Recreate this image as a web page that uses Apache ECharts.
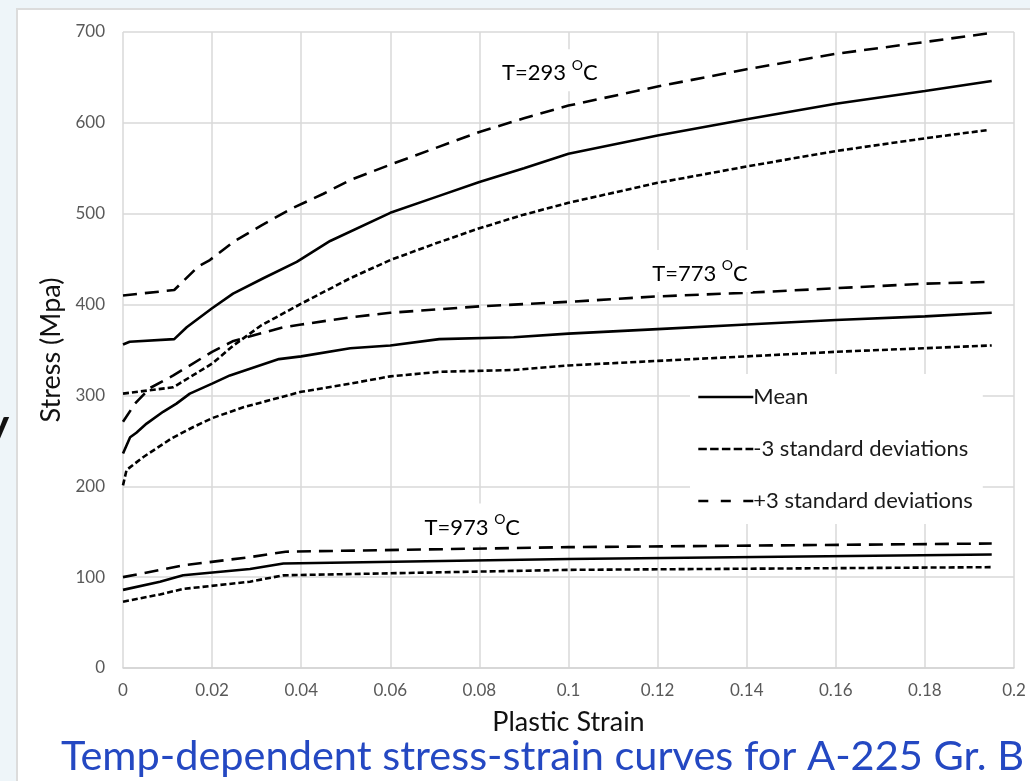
<!DOCTYPE html>
<html><head><meta charset="utf-8">
<script src="https://cdn.jsdelivr.net/npm/echarts@6/dist/echarts.min.js"></script>
<style>
html,body{margin:0;padding:0;background:#eef5f9;overflow:hidden;}
#card{position:absolute;left:16px;top:8px;width:1030px;height:790px;background:#fff;border:2px solid #dcdcdc;box-sizing:border-box;}
#c{position:absolute;left:0;top:0;width:1030px;height:781px;}
</style>
</head><body><div id="card"></div><div id="c"></div>
<script>
// ---- data ----
const strain293Mean = [0, 0.0015, 0.0115, 0.0143, 0.02, 0.0247, 0.0315, 0.039, 0.0465, 0.06, 0.07, 0.08, 0.09, 0.1, 0.12, 0.14, 0.16, 0.18, 0.195];
const stress293Mean = [356, 359, 362, 375, 396, 412, 429, 447, 470, 501, 518, 535, 550, 566, 586, 604, 621, 635, 646];
const strain293Plus = [0, 0.0115, 0.0169, 0.0195, 0.0248, 0.031, 0.038, 0.045, 0.051, 0.06, 0.07, 0.08, 0.09, 0.1, 0.12, 0.14, 0.16, 0.18, 0.195];
const stress293Plus = [410, 416, 442, 449, 469, 487, 506, 522, 537, 554, 572, 590, 605, 619, 640, 659, 676, 689, 699];
const strain293Minus = [0, 0.0113, 0.02, 0.0248, 0.031, 0.04, 0.051, 0.06, 0.07, 0.08, 0.09, 0.1, 0.12, 0.14, 0.16, 0.18, 0.194];
const stress293Minus = [302, 309, 335, 355, 377, 401, 429, 449, 467, 484, 499, 512, 534, 552, 569, 583, 592];

const strain773Mean = [0, 0.0016, 0.003, 0.0053, 0.009, 0.012, 0.015, 0.02, 0.024, 0.035, 0.04, 0.051, 0.06, 0.071, 0.0877, 0.1, 0.12, 0.14, 0.16, 0.18, 0.195];
const stress773Mean = [236, 254, 259, 269, 282, 291, 302, 313, 322, 340, 343, 352, 355, 362, 364, 368, 373, 378, 383, 387, 391];
const strain773Plus = [0, 0.0027, 0.006, 0.0113, 0.02, 0.0248, 0.036, 0.04, 0.051, 0.06, 0.08, 0.1, 0.12, 0.14, 0.16, 0.18, 0.195];
const stress773Plus = [271, 291, 308, 322, 348, 360, 375, 378, 386, 391, 398, 403, 409, 413, 418, 423, 425];
const strain773Minus = [0, 0.0008, 0.0045, 0.011, 0.0157, 0.02, 0.027, 0.04, 0.051, 0.06, 0.071, 0.0877, 0.1, 0.12, 0.14, 0.16, 0.18, 0.195];
const stress773Minus = [201, 218, 232, 253, 265, 275, 287, 304, 313, 321, 326, 328, 333, 338, 343, 348, 352, 355];

const strain973Mean = [0, 0.0083, 0.0135, 0.0285, 0.036, 0.1, 0.195];
const stress973Mean = [86, 95, 102, 109, 115, 120, 125];
const strain973Plus = [0, 0.0135, 0.0285, 0.0365, 0.1, 0.195];
const stress973Plus = [100, 113, 122, 128, 133, 137];
const strain973Minus = [0, 0.0083, 0.0135, 0.0285, 0.036, 0.1, 0.195];
const stress973Minus = [73, 81, 87, 95, 102, 108, 111];

const legendNames = ['Mean', '-3 standard deviations', '+3 standard deviations'];
const tempLabels = ['T=293', 'T=773', 'T=973'];
const xAxisTitle = 'Plastic Strain';
const yAxisTitle = 'Stress (Mpa)';
const chartTitle = 'Temp-dependent stress-strain curves for A-225 Gr. B';

// ---- chart ----
const FONT = 'Lato, "Open Sans", sans-serif';
const SOLID = 'solid', SHORT = [6, 3], LONG = [14, 8];
const LEGEND_DASH = ['solid', [8.5, 3.3], [10, 12.5]];
function pairs(xs, ys) { return xs.map((x, i) => [x, ys[i]]); }
function mk(name, xs, ys, dash) {
  return {
    type: 'line', name: name, data: pairs(xs, ys),
    symbol: 'none', showSymbol: false, smooth: false,
    lineStyle: { color: '#000', width: 2.6, type: dash },
    itemStyle: { color: '#000' }, z: 3, silent: true
  };
}
const chart = echarts.init(document.getElementById('c'), null, { renderer: 'canvas' });
chart.setOption({
  animation: false,
  backgroundColor: 'transparent',
  textStyle: { fontFamily: FONT },
  title: {
    text: chartTitle, left: 56, top: 731,
    textStyle: { fontFamily: FONT, fontSize: 41.5, fontWeight: 'normal', color: '#2448c2' }
  },
  grid: { left: 123, right: 16, top: 32, bottom: 113, containLabel: false },
  legend: {
    data: legendNames.map((n, i) => ({ name: n, lineStyle: { type: LEGEND_DASH[i], width: 2.6, color: '#000' } })),
    orient: 'vertical', left: 690, top: 374,
    itemWidth: 55, itemHeight: 14, itemGap: 30,
    padding: [12, 10, 12, 7], backgroundColor: '#fff',
    itemStyle: { opacity: 0 },
    textStyle: { fontFamily: FONT, fontSize: 22, color: '#1a1a1a', padding: [0, 0, 0, -5] },
    selectedMode: false
  },
  xAxis: {
    type: 'value', min: 0, max: 0.2, interval: 0.02,
    name: xAxisTitle, nameLocation: 'middle', nameGap: 41,
    nameTextStyle: { fontFamily: FONT, fontSize: 27, color: '#111' },
    axisLine: { show: true, lineStyle: { color: '#d4d4d4', width: 1.5 } },
    axisTick: { show: false },
    axisLabel: { margin: 14, fontFamily: FONT, fontSize: 17, color: '#595959',
      formatter: v => String(+v.toFixed(2)) },
    splitLine: { show: true, lineStyle: { color: '#d9d9d9', width: 1.5 } }
  },
  yAxis: {
    type: 'value', min: 0, max: 700, interval: 100,
    name: yAxisTitle, nameLocation: 'middle', nameGap: 50, nameRotate: 90,
    nameTextStyle: { fontFamily: FONT, fontSize: 27, color: '#111' },
    axisLine: { show: false }, axisTick: { show: false },
    axisLabel: { margin: 18, fontFamily: FONT, fontSize: 17, color: '#595959' },
    splitLine: { show: true, lineStyle: { color: '#d9d9d9', width: 1.5 } }
  },
  series: [
    mk(legendNames[0], strain293Mean, stress293Mean, SOLID),
    mk(legendNames[1], strain293Minus, stress293Minus, SHORT),
    mk(legendNames[2], strain293Plus, stress293Plus, LONG),
    mk(legendNames[0], strain773Mean, stress773Mean, SOLID),
    mk(legendNames[1], strain773Minus, stress773Minus, SHORT),
    mk(legendNames[2], strain773Plus, stress773Plus, LONG),
    mk(legendNames[0], strain973Mean, stress973Mean, SOLID),
    mk(legendNames[1], strain973Minus, stress973Minus, SHORT),
    mk(legendNames[2], strain973Plus, stress973Plus, LONG)
  ]
});

// temperature annotations, anchored in data coordinates
const annoAnchors = [[0.0958, 658], [0.1295, 437], [0.0784, 158]];
const elements = tempLabels.map((t, i) => {
  const p = chart.convertToPixel({ gridIndex: 0 }, annoAnchors[i]);
  return {
    type: 'text', x: p[0], y: p[1], z: 10,
    style: {
      text: '{t|' + t + ' }{s|O}{t|C}',
      align: 'center', verticalAlign: 'middle',
      backgroundColor: '#fff', padding: [9, 5, 7, 5],
      rich: {
        t: { fontFamily: FONT, fontSize: 22, color: '#111', lineHeight: 26, verticalAlign: 'bottom' },
        s: { fontFamily: FONT, fontSize: 14, color: '#111', lineHeight: 26, verticalAlign: 'top' }
      }
    }
  };
});
// fragment of slide text at the far left edge
elements.push({ type: 'text', x: -14, y: 404, z: 10,
  style: { text: 'y', fontFamily: FONT, fontSize: 44, fontWeight: 'bold', fill: '#111' } });
chart.setOption({ graphic: { elements: elements } });
</script></body></html>
